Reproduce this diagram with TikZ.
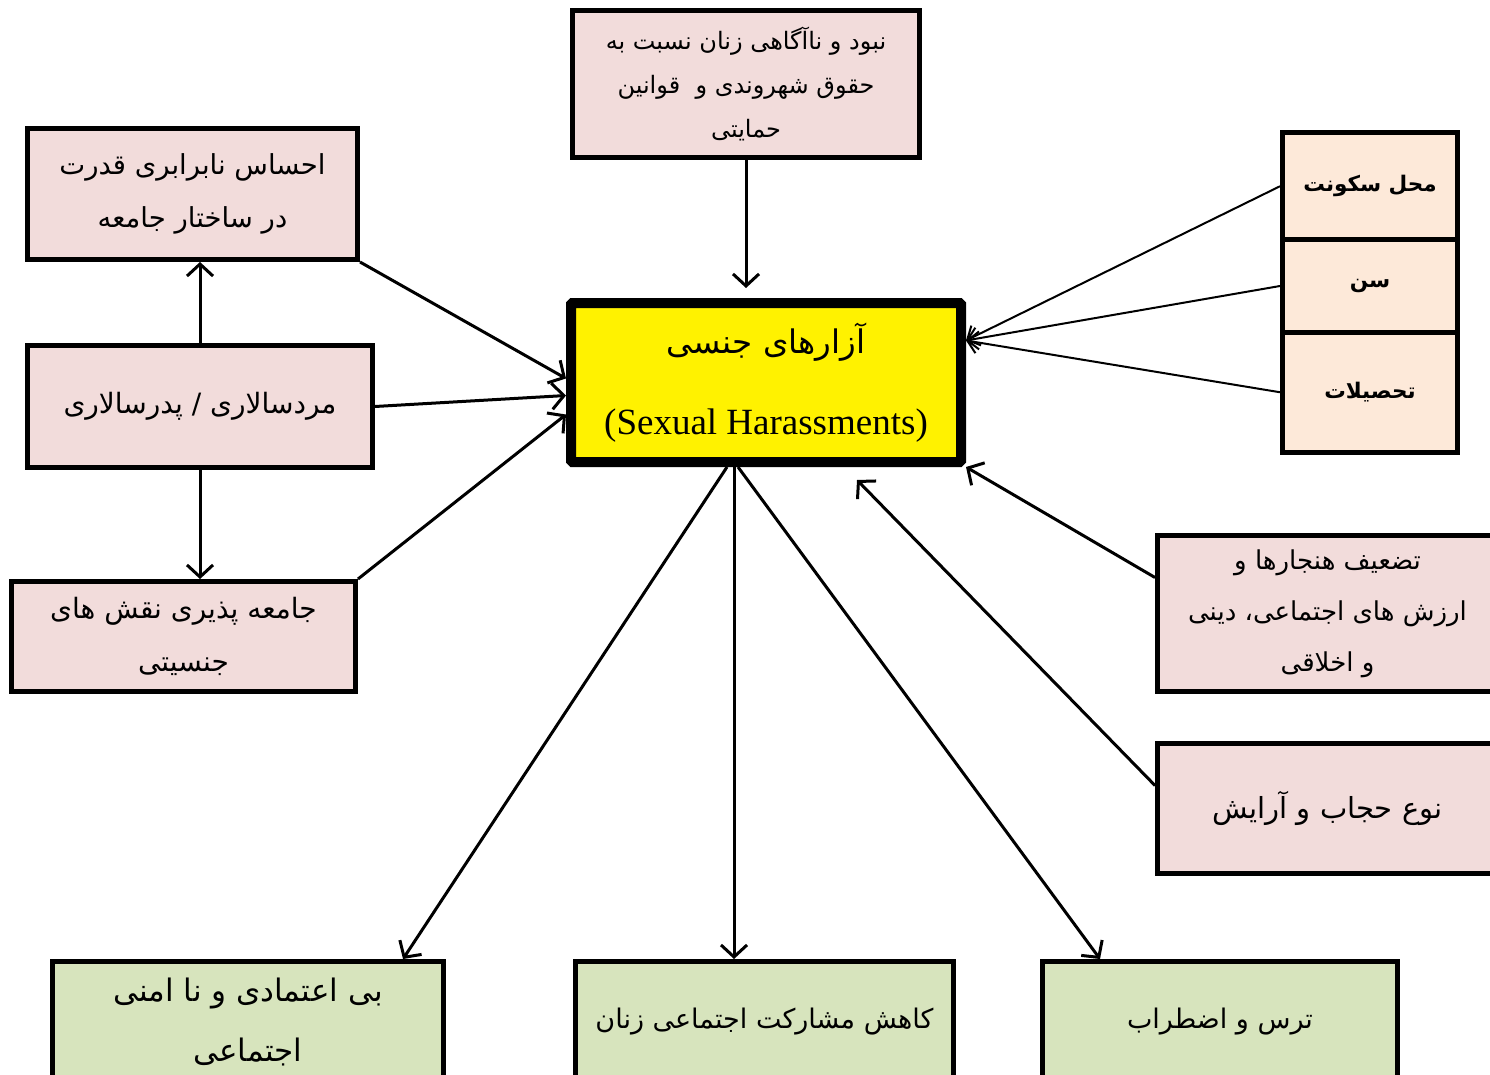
\documentclass[tikz,border=0pt]{standalone}
\usepackage{fontspec}
\setmainfont{Liberation Serif}
\newfontfamily\fa[Script=Arabic]{DejaVu Sans}
\TeXXeTstate=1
\usetikzlibrary{arrows.meta,calc}
\definecolor{pinkbox}{HTML}{F2DCDB}
\definecolor{peachbox}{HTML}{FDE9D9}
\definecolor{greenbox}{HTML}{D7E4BD}
\newcommand{\fatxt}[1]{\beginR #1\endR}
\begin{document}
\begin{tikzpicture}[x=1pt,y=-1pt,
  box/.style={draw=black, line width=5pt, fill=pinkbox, align=center, inner sep=0pt,
    font={\fa\fontsize{27.5}{53}\selectfont}},
  topbox/.style={box, font={\fa\fontsize{24}{44}\selectfont}},
  stackbox/.style={box, fill=peachbox, font={\fa\bfseries\fontsize{21.5}{40}\selectfont}},
  greenb/.style={box, fill=greenbox, font={\fa\fontsize{31}{60}\selectfont}},
  mainbox/.style={draw=black, line width=10pt, fill=yellow, align=center, inner sep=0pt, rounded corners=1.5pt},
  conn/.style={line width=3pt, -{Straight Barb[length=12pt,width=26pt,line width=3pt]}},
  thinconn/.style={line width=2pt, -{Straight Barb[length=10pt,width=22pt,line width=2pt]}}
]
\useasboundingbox (0,0) rectangle (1490,1075);
\clip (0,0) rectangle (1490,1075);

\node[topbox, minimum width=347pt, minimum height=147pt] (lack) at (746,84)
  {\fatxt{نبود و ناآگاهی زنان نسبت به}\\ \fatxt{حقوق شهروندی و\ \ قوانین}\\ \fatxt{حمایتی}};
\node[box, minimum width=330pt, minimum height=131pt] (ehsas) at (192.5,194)
  {\fatxt{احساس نابرابری قدرت}\\ \fatxt{در ساختار جامعه}};
\node[box, minimum width=345pt, minimum height=122pt, font={\fa\fontsize{28}{53}\selectfont}] (mard) at (200,406.5)
  {\fatxt{مردسالاری / پدرسالاری}};
\node[box, minimum width=344pt, minimum height=110pt, font={\fa\fontsize{28}{53}\selectfont}] (jp) at (183.5,636.5)
  {\fatxt{جامعه پذیری نقش های}\\ \fatxt{جنسیتی}};

\node[mainbox, minimum width=390pt, minimum height=159pt] (center) at (766,382.5)
  {{\fa\fontsize{32.5}{36}\selectfont\fatxt{آزارهای جنسی}}\\[46pt]
   {\fontsize{37}{40}\selectfont (Sexual Harassments)}};

\node[stackbox, minimum width=175pt, minimum height=107.5pt] (mahal) at (1370,186.25) {\fatxt{محل سکونت}};
\node[stackbox, minimum width=175pt, minimum height=92pt] (sen) at (1370,286) {\raisebox{-6pt}{\fatxt{سن}}};
\node[stackbox, minimum width=175pt, minimum height=120.5pt] (tahsil) at (1370,392.25) {\fatxt{تحصیلات}};

\node[box, minimum width=340pt, minimum height=156pt, font={\fa\fontsize{26}{51}\selectfont}] (tazeef) at (1327.5,613.5)
  {\fatxt{تضعیف هنجارها و}\\ \fatxt{ارزش های اجتماعی، دینی}\\ \fatxt{و اخلاقی}};
\node[box, minimum width=340pt, minimum height=130pt, font={\fa\fontsize{29}{53}\selectfont}] (hejab) at (1327.5,808.5)
  {\fatxt{نوع حجاب و آرایش}};

\node[greenb, minimum width=391pt, minimum height=121pt] (bl) at (248,1022)
  {\fatxt{بی اعتمادی و نا امنی}\\ \fatxt{اجتماعی}};
\node[box, fill=greenbox, minimum width=378pt, minimum height=121pt, font={\fa\fontsize{27}{53}\selectfont}] (bm) at (764.5,1022)
  {\fatxt{کاهش مشارکت اجتماعی زنان}};
\node[box, fill=greenbox, minimum width=355pt, minimum height=121pt, font={\fa\fontsize{27}{53}\selectfont}] (br) at (1220,1022)
  {\fatxt{ترس و اضطراب}};

% connectors
\draw[conn] (lack.south) -- ($(center.north)+(-20,-10)$);
\draw[conn] (ehsas.south east) -- ($(center.west)+(0,-4)$);
\draw[conn] (mard.east) -- ($(center.west)+(0,13)$);
\draw[conn] (jp.north east) -- ($(center.west)+(0,32)$);
\draw[conn] (mard.north) -- ($(ehsas.south)+(7.5,0)$);
\draw[conn] (mard.south) -- ($(jp.north)+(16.5,0)$);

\draw[thinconn] (mahal.west) -- ($(center.east)+(0,-42)$);
\draw[thinconn] (sen.west) -- ($(center.east)+(0,-42)$);
\draw[thinconn] (tahsil.west) -- ($(center.east)+(0,-42)$);

\draw[conn] ($(tazeef.west)+(0,-36)$) -- (center.south east);
\draw[conn] ($(hejab.west)+(0,-23)$) -- ($(center.south)+(91,13)$);

\draw[conn] ($(center.south)+(-39,0)$) -- ($(bl.north)+(155,0)$);
\draw[conn] ($(center.south)+(-32,0)$) -- ($(bm.north)+(-30.5,0)$);
\draw[conn] ($(center.south)+(-28,0)$) -- ($(br.north)+(-120,0)$);
\end{tikzpicture}
\end{document}
